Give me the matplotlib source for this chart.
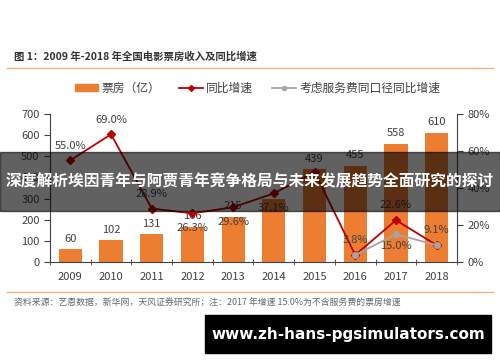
import matplotlib
matplotlib.use("Agg")
import matplotlib.pyplot as plt
from matplotlib.patches import Rectangle
from matplotlib.lines import Line2D

plt.rcParams['font.family'] = ['Noto Sans CJK SC', 'DejaVu Sans']

years = ["2009", "2010", "2011", "2012", "2013", "2014", "2015", "2016", "2017", "2018"]
box_office = [60, 102, 131, 166, 215, 296, 439, 455, 558, 610]
bar_labels = ["60", "102", "131", "166", "215", None, "439", "455", "558", "610"]
growth = [55.0, 69.0, 28.9, 26.3, 29.6, 37.1, 48.7, 3.8, 22.6, 9.1]
growth_labels = ["55.0%", "69.0%", "28.9%", "26.3%", "29.6%", "37.1%", None, "3.8%", "22.6%", "9.1%"]
# +1 above point, -1 below
growth_pos = [1, 1, 1, -1, -1, -1, 1, 1, 1, 1]
same_years = ["2016", "2017", "2018"]
same_growth = [3.8, 15.0, 9.1]

orange = "#ED7D31"
red = "#C00000"
grey = "#A5A5A5"
txt = "#404040"

fig = plt.figure(figsize=(5, 3.62), dpi=100)
ax = fig.add_axes([0.1, 0.2762, 0.814, 0.409])
ax2 = ax.twinx()

x = list(range(len(years)))
ax.bar(x, box_office, width=0.57, color=orange, zorder=2)
for i, lab in enumerate(bar_labels):
    if lab:
        ax.annotate(lab, (i, box_office[i]), xytext=(0, 4), textcoords="offset points",
                    ha="center", va="bottom", fontsize=8, color=txt)

ax.set_xlim(-0.5, len(years) - 0.5)
ax.set_ylim(0, 700)
ax.set_yticks(range(0, 701, 100))
ax.set_xticks(x)
ax.set_xticklabels(years)
ax.set_xticks([i - 0.5 for i in range(len(years) + 1)], minor=True)
ax.tick_params(axis="x", which="major", length=0, pad=7, labelsize=8, labelcolor=txt)
ax.tick_params(axis="x", which="minor", length=4, direction="inout", color="#404040")
ax.tick_params(axis="y", length=4, labelsize=8, labelcolor=txt, color="#404040")
ax.spines["top"].set_visible(False)
ax.spines["right"].set_visible(False)
for s in ["left", "bottom"]:
    ax.spines[s].set_color("#404040")

xi = [years.index(y) for y in same_years]
ax2.plot(x, growth, color=red, lw=1.3, marker="D", ms=4, zorder=3)
ax2.plot(xi, same_growth, color=grey, lw=1.3, marker="o", ms=4, zorder=4)
for i, lab in enumerate(growth_labels):
    if lab:
        dy = 7 if growth_pos[i] > 0 else -7
        ax2.annotate(lab, (i, growth[i]), xytext=(0, dy), textcoords="offset points",
                     ha="center", va="bottom" if dy > 0 else "top", fontsize=8, color=txt)
ax2.annotate("15.0%", (xi[1], same_growth[1]), xytext=(0, -5), textcoords="offset points",
             ha="center", va="top", fontsize=8, color=txt)
ax2.set_ylim(0, 80)
ax2.set_yticks(range(0, 81, 20))
ax2.set_yticklabels([f"{v}%" for v in range(0, 81, 20)])
ax2.tick_params(axis="y", length=4, labelsize=8, labelcolor=txt, color="#404040")
ax2.spines["top"].set_visible(False)
ax2.spines["left"].set_visible(False)
ax2.spines["bottom"].set_visible(False)
ax2.spines["right"].set_color("#404040")

handles = [
    Rectangle((0, 0), 1, 1, color=orange),
    Line2D([], [], color=red, lw=1.3, marker="D", ms=3),
    Line2D([], [], color=grey, lw=1.3, marker="o", ms=3),
]
fig.legend(handles, ["票房（亿）", "同比增速", "考虑服务费同口径同比增速"], loc="center",
           bbox_to_anchor=(0.515, 0.757), ncol=3, frameon=False, fontsize=8.5,
           handlelength=2.0, handleheight=0.5, columnspacing=1.6, handletextpad=0.3,
           labelcolor=txt)

# title, separators, source
fig.text(0.028, 0.845, "图 1：2009 年-2018 年全国电影票房收入及同比增速", fontsize=7.5,
         fontweight="bold", color="#333333", va="center")
fig.add_artist(Line2D([0.014, 0.986], [0.812, 0.812], color="#F4B183", lw=1, transform=fig.transFigure))
fig.add_artist(Line2D([0.014, 0.986], [0.193, 0.193], color="#F4B183", lw=1, transform=fig.transFigure))
fig.text(0.028, 0.163, "资料来源：艺恩数据，新华网，天风证券研究所；注：2017 年增速 15.0%为不含服务费的票房增速",
         fontsize=6.4, color="#666666", va="center")

# overlay banners
fig.add_artist(Rectangle((0, 0.417), 1, 0.163, color="black", alpha=0.62,
                         transform=fig.transFigure, zorder=10))
fig.text(0.5, 0.5, "深度解析埃因青年与阿贾青年竞争格局与未来发展趋势全面研究的探讨",
         fontsize=11.3, fontweight="bold", color="white", ha="center", va="center", zorder=11)
fig.add_artist(Rectangle((0.41, 0.0249), 0.572, 0.105, color="black",
                         transform=fig.transFigure, zorder=10))
fig.text(0.696, 0.077, "www.zh-hans-pgsimulators.com", fontsize=11, fontweight="bold",
         color="white", ha="center", va="center", family=["DejaVu Sans"], zorder=11)

fig.savefig("out.png", dpi=100)
